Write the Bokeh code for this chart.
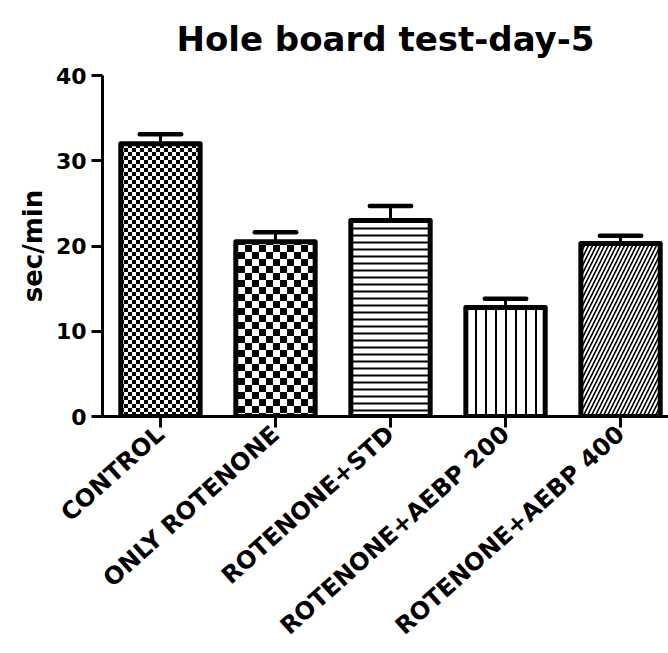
import base64
import struct
import zlib
from math import radians

from bokeh.embed import file_html
from bokeh.models import ColumnDataSource, FixedTicker, ImageURLTexture, Range1d
from bokeh.plotting import figure
from bokeh.resources import INLINE

# Hole board test, day 5 — mean time (sec/min) and SEM for each group
groups = ["CONTROL", "ONLY ROTENONE", "ROTENONE+STD", "ROTENONE+AEBP 200", "ROTENONE+AEBP 400"]
means = [32.0, 20.5, 23.0, 12.8, 20.3]
sems = [1.1, 1.1, 1.7, 1.0, 0.9]
y_ticks = [0, 10, 20, 30, 40]

# fill pattern for each bar
patterns = ["checker_fine", "checker_coarse", "horizontal_line", "vertical_line", "right_diagonal_line"]
pattern_scales = [8, 14, 7, 10, 8]
pattern_weights = [1, 1, 2, 2, 1.6]

FONT = "DejaVu Sans"


def checker_png(cell):
    """Black/white checkerboard tile (2 x 2 cells) as a PNG data URL."""
    size = cell * 2
    raw = bytearray()
    for y in range(size):
        raw.append(0)
        for x in range(size):
            v = 0 if ((x // cell) + (y // cell)) % 2 == 0 else 255
            raw += bytes((v, v, v))

    def chunk(tag, data):
        return (struct.pack(">I", len(data)) + tag + data
                + struct.pack(">I", zlib.crc32(tag + data) & 0xFFFFFFFF))

    png = (b"\x89PNG\r\n\x1a\n"
           + chunk(b"IHDR", struct.pack(">IIBBBBB", size, size, 8, 2, 0, 0, 0))
           + chunk(b"IDAT", zlib.compress(bytes(raw)))
           + chunk(b"IEND", b""))
    return "data:image/png;base64," + base64.b64encode(png).decode()


textures = {
    "checker_fine": ImageURLTexture(url=checker_png(4)),
    "checker_coarse": ImageURLTexture(url=checker_png(7)),
}

xs = list(range(len(groups)))
src = ColumnDataSource(dict(
    x=xs, top=means,
    err_top=[m + s for m, s in zip(means, sems)],
    cap_l=[x - 0.18 for x in xs], cap_r=[x + 0.18 for x in xs],
    pattern=patterns, pscale=pattern_scales, pweight=pattern_weights,
))

p = figure(
    width=668, height=653,
    x_range=Range1d(-0.504, 4.417), y_range=Range1d(0, 40),
    output_backend="svg", toolbar_location=None,
    min_border_left=102, min_border_right=0, min_border_top=75, min_border_bottom=0,
    title="Hole board test-day-5",
)
p.background_fill_color = "white"
p.border_fill_color = "white"
p.outline_line_color = None
p.xgrid.visible = False
p.ygrid.visible = False

p.title.align = "center"
p.title.text_font = FONT
p.title.text_font_size = "34px"
p.title.text_font_style = "bold"
p.title.text_color = "black"
p.title.standoff = 33

# bars with patterned fill
p.vbar(
    x="x", top="top", bottom=0, width=0.69, source=src,
    fill_color="white", line_color="black", line_width=5, line_join="round",
    hatch_pattern="pattern", hatch_scale="pscale", hatch_weight="pweight",
    hatch_color="black", hatch_extra=textures,
)

# upper error bars
p.segment(x0="x", y0="top", x1="x", y1="err_top", source=src,
          line_color="black", line_width=3)
p.segment(x0="cap_l", y0="err_top", x1="cap_r", y1="err_top", source=src,
          line_color="black", line_width=4.5, line_cap="round")

# axes
for ax in (p.xaxis[0], p.yaxis[0]):
    ax.axis_line_width = 3
    ax.axis_line_color = "black"
    ax.major_tick_line_width = 3
    ax.major_tick_line_color = "black"
    ax.major_tick_in = 0
    ax.major_tick_out = 11
    ax.minor_tick_line_color = None
    ax.major_label_text_font = FONT
    ax.major_label_text_font_style = "bold"
    ax.major_label_text_color = "black"

p.yaxis.ticker = FixedTicker(ticks=y_ticks)
p.yaxis.major_label_text_font_size = "22px"
p.yaxis.major_label_standoff = 5
p.yaxis.axis_label = "sec/min"
p.yaxis.axis_label_text_font = FONT
p.yaxis.axis_label_text_font_size = "26px"
p.yaxis.axis_label_text_font_style = "bold"
p.yaxis.axis_label_text_color = "black"
p.yaxis.axis_label_standoff = 5

p.xaxis.ticker = FixedTicker(ticks=xs)
p.xaxis.major_label_overrides = {x: g for x, g in zip(xs, groups)}
p.xaxis.major_label_text_font_size = "24px"
p.xaxis.major_label_orientation = radians(42)
p.xaxis.major_label_standoff = 3

open("out.html", "w").write(file_html(p, INLINE))
